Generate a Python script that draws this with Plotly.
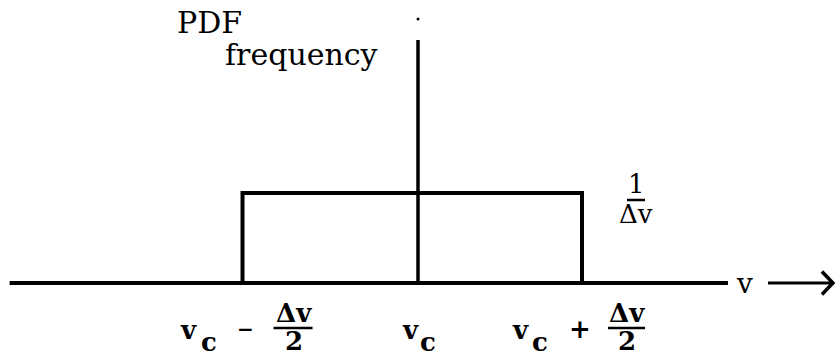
import plotly.graph_objects as go

# ---- data (drawing units: v_c = 0, PDF height 1/Δv = 1) ----
v_c = 0.0
rect_edges = [-1.07, 1.0]          # v_c - Δv/2 , v_c + Δv/2 (as drawn)
pdf_height = 1.0                   # 1/Δv
tick_positions = [-1.07, 0.0, 1.0]
axis_x_start = -2.49
axis_x_end = 1.89
arrow_x = [2.134, 2.53]
vaxis_top = 2.70
dot_y = 2.933

W, H = 837, 356
X0_PX, XU = 418, 164.0   # pixel of x=0, pixels per x unit
Y0_PX, YU = 283, 90.0    # pixel of y=0, pixels per y unit
x_range = [-X0_PX / XU, (W - X0_PX) / XU]
y_range = [-(H - Y0_PX) / YU, Y0_PX / YU]

FONT = "DejaVu Serif"
FS = 28
LW = 4

fig = go.Figure()

# horizontal axis
fig.add_trace(go.Scatter(x=[axis_x_start, axis_x_end], y=[0, 0], mode="lines",
                         line=dict(color="black", width=LW), hoverinfo="skip"))
# vertical axis at v_c
fig.add_trace(go.Scatter(x=[v_c, v_c], y=[0, vaxis_top], mode="lines",
                         line=dict(color="black", width=3.5), hoverinfo="skip"))
fig.add_trace(go.Scatter(x=[v_c], y=[dot_y], mode="markers",
                         marker=dict(color="black", size=3), hoverinfo="skip"))
# uniform PDF rectangle
fig.add_trace(go.Scatter(x=[rect_edges[0], rect_edges[0], rect_edges[1], rect_edges[1]],
                         y=[0, pdf_height, pdf_height, 0], mode="lines",
                         line=dict(color="black", width=LW), hoverinfo="skip"))
# arrow after "v"
fig.add_trace(go.Scatter(x=arrow_x, y=[0, 0], mode="lines",
                         line=dict(color="black", width=3), hoverinfo="skip"))
ah_dx = 11 / XU
ah_dy = 11.5 / YU
fig.add_trace(go.Scatter(x=[arrow_x[1] - ah_dx, arrow_x[1], arrow_x[1] - ah_dx],
                         y=[ah_dy, 0, -ah_dy], mode="lines",
                         line=dict(color="black", width=3.5), hoverinfo="skip"))

ann = []
def txt(x, y, s, xs=0, ys=0, size=FS, bold=False):
    ann.append(dict(x=x, y=y, xref="x", yref="y", text=(f"<b>{s}</b>" if bold else s),
                    showarrow=False, xanchor="center", yanchor="middle",
                    xshift=xs, yshift=ys, borderpad=0,
                    font=dict(family=FONT, size=size, color="black")))

shapes = []
def bar(x, xs0, xs1, y_px):
    shapes.append(dict(type="line", xref="x", yref="y",
                       x0=x + xs0 / XU, x1=x + xs1 / XU,
                       y0=(Y0_PX - y_px) / YU, y1=(Y0_PX - y_px) / YU,
                       line=dict(color="black", width=2.5)))

# tick labels below axis (pixel offsets relative to each tick)
t_left, t_mid, t_right = tick_positions
Y_V, Y_C, Y_SIGN, Y_NUM, Y_DEN = 47, 59, 46, 30, 58
FSB = 26
# left: v_c - Δv/2
txt(t_left, 0, "v", xs=188 - 242, ys=-Y_V, size=FSB, bold=True)
txt(t_left, 0, "c", xs=208 - 242, ys=-Y_C, size=FSB, bold=True)
txt(t_left, 0, "−", xs=245 - 242, ys=-Y_SIGN, size=20, bold=True)
txt(t_left, 0, "Δv", xs=293 - 242, ys=-Y_NUM, size=FSB, bold=True)
bar(t_left, 273 - 242, 312 - 242, 328)
txt(t_left, 0, "2", xs=293 - 242, ys=-Y_DEN, size=FSB, bold=True)
# middle: v_c
txt(t_mid, 0, "v", xs=410 - 418, ys=-Y_V, size=FSB, bold=True)
txt(t_mid, 0, "c", xs=428 - 418, ys=-Y_C, size=FSB, bold=True)
# right: v_c + Δv/2
txt(t_right, 0, "v", xs=520 - 582, ys=-Y_V, size=FSB, bold=True)
txt(t_right, 0, "c", xs=540 - 582, ys=-Y_C, size=FSB, bold=True)
txt(t_right, 0, "+", xs=580 - 582, ys=-Y_SIGN, size=FSB, bold=True)
txt(t_right, 0, "Δv", xs=627 - 582, ys=-Y_NUM, size=FSB, bold=True)
bar(t_right, 608 - 582, 645 - 582, 328)
txt(t_right, 0, "2", xs=627 - 582, ys=-Y_DEN, size=FSB, bold=True)

# 1/Δv label by the rectangle top
txt(rect_edges[1], pdf_height, "1", xs=636 - 582, ys=193 - 184, size=26)
bar(rect_edges[1], 627 - 582, 645 - 582, 200)
txt(rect_edges[1], pdf_height, "Δv", xs=636 - 582, ys=193 - 214, size=26)

# axis name
txt(axis_x_end, 0, "v", xs=745 - 728, ys=0)
# y-axis title
txt(v_c, dot_y, "PDF", xs=209 - 418, ys=19 - 22, size=30)
txt(v_c, dot_y, "frequency", xs=301 - 418, ys=19 - 54, size=30)

fig.update_layout(
    width=W, height=H, margin=dict(l=0, r=0, t=0, b=0),
    paper_bgcolor="white", plot_bgcolor="white", showlegend=False,
    xaxis=dict(range=x_range, visible=False, fixedrange=True),
    yaxis=dict(range=y_range, visible=False, fixedrange=True),
    annotations=ann, shapes=shapes,
)
fig.write_html("out.html", config={"displayModeBar": False},
               post_script="document.body.style.margin='0';document.body.style.overflow='hidden';")
